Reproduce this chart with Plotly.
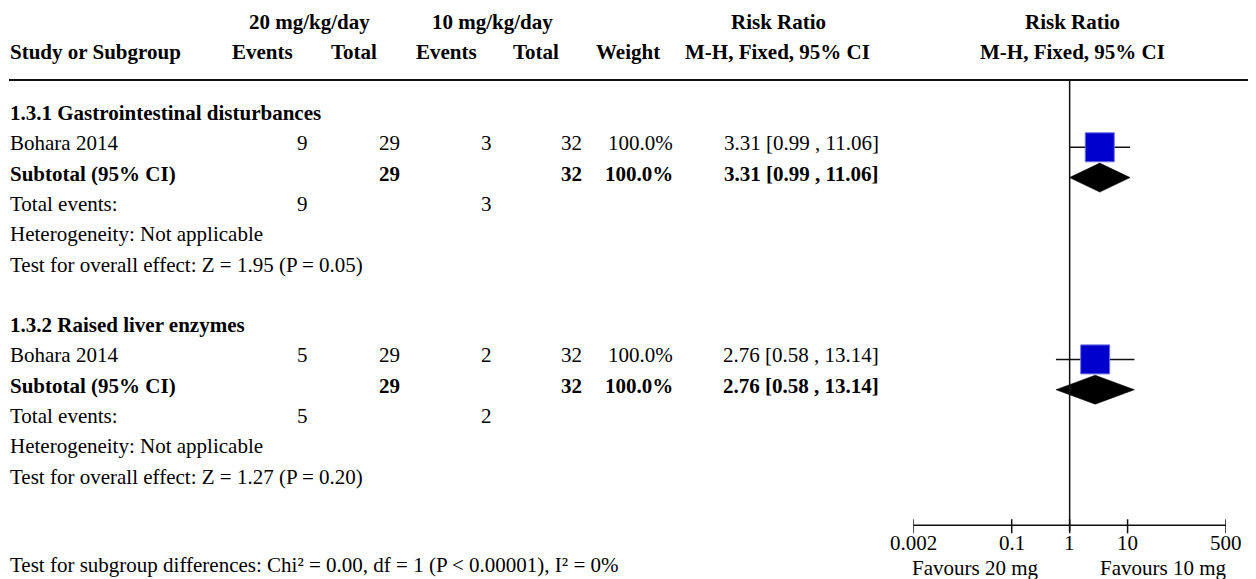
import numpy as np
import plotly.graph_objects as go

# ---------------- data ----------------
subgroup_titles = ["1.3.1 Gastrointestinal disturbances", "1.3.2 Raised liver enzymes"]
study_names = ["Bohara 2014", "Bohara 2014"]
events_20 = [9, 5]
total_20 = [29, 29]
events_10 = [3, 2]
total_10 = [32, 32]
weights = [100.0, 100.0]
risk_ratio = [3.31, 2.76]
ci_low = [0.99, 0.58]
ci_high = [11.06, 13.14]
z_values = [1.95, 1.27]
p_values = ["0.05", "0.20"]
subgroup_test = "Test for subgroup differences: Chi² = 0.00, df = 1 (P < 0.00001), I² = 0%"
axis_ticks = [0.002, 0.1, 1, 10, 500]
axis_ticktext = ["0.002", "0.1", "1", "10", "500"]
favours_labels = ["Favours 20 mg", "Favours 10 mg"]

# ---------------- layout constants ----------------
PAGE_W, PAGE_H = 1256, 579
OFF = 8  # default page margin around the plot div
W, H = PAGE_W - OFF, PAGE_H - OFF
FONT = "Liberation Serif"
FS = 21
ROW0, ROWH = 113, 30.3
MARK_DY = 4
SQ = 29
AXIS_Y = 525.3


def row_y(i):
    return ROW0 + ROWH * i


def px(x):
    return (x - OFF) / W


fig = go.Figure()
annotations = []


def txt(xpx, ypx, text, anchor="left", bold=False, size=FS):
    annotations.append(dict(
        x=px(xpx), y=ypx, xref="paper", yref="y", text=("<b>%s</b>" % text) if bold else text,
        showarrow=False, xanchor=anchor, yanchor="middle",
        font=dict(family=FONT, size=size, color="#000000"), borderpad=0,
    ))


# header
txt(309.5, 22, "20 mg/kg/day", "center", True)
txt(492, 22, "10 mg/kg/day", "center", True)
txt(778, 22, "Risk Ratio", "center", True)
txt(1072.5, 22, "Risk Ratio", "center", True)
txt(9, 52, "Study or Subgroup", "left", True)
txt(294, 52, "Events", "right", True)
txt(378, 52, "Total", "right", True)
txt(478, 52, "Events", "right", True)
txt(560, 52, "Total", "right", True)
txt(661, 52, "Weight", "right", True)
txt(777.5, 52, "M-H, Fixed, 95% CI", "center", True)
txt(1072.5, 52, "M-H, Fixed, 95% CI", "center", True)

COL_E20, COL_T20, COL_E10, COL_T10, COL_W, COL_RR = 309, 401, 493, 583, 674, 880

for k in range(len(subgroup_titles)):
    base = 7 * k
    txt(9, row_y(base), subgroup_titles[k], "left", True)
    # study row
    y1 = row_y(base + 1)
    txt(9, y1, study_names[k])
    txt(COL_E20, y1, str(events_20[k]), "right")
    txt(COL_T20, y1, str(total_20[k]), "right")
    txt(COL_E10, y1, str(events_10[k]), "right")
    txt(COL_T10, y1, str(total_10[k]), "right")
    txt(COL_W, y1, "%.1f%%" % weights[k], "right")
    rr_text = "%.2f [%.2f , %.2f]" % (risk_ratio[k], ci_low[k], ci_high[k])
    txt(COL_RR, y1, rr_text, "right")
    # subtotal row
    y2 = row_y(base + 2)
    txt(9, y2, "Subtotal (95% CI)", "left", True)
    txt(COL_T20, y2, str(total_20[k]), "right", True)
    txt(COL_T10, y2, str(total_10[k]), "right", True)
    txt(COL_W, y2, "%.1f%%" % weights[k], "right", True)
    txt(COL_RR, y2, rr_text, "right", True)
    # total events
    y3 = row_y(base + 3)
    txt(9, y3, "Total events:")
    txt(COL_E20, y3, str(events_20[k]), "right")
    txt(COL_E10, y3, str(events_10[k]), "right")
    txt(9, row_y(base + 4), "Heterogeneity: Not applicable")
    txt(9, row_y(base + 5), "Test for overall effect: Z = %.2f (P = %s)" % (z_values[k], p_values[k]))

    # forest marks
    ym = y1 + MARK_DY
    fig.add_trace(go.Scatter(x=[ci_low[k], ci_high[k]], y=[ym, ym], mode="lines",
                             line=dict(color="#111111", width=1.5), hoverinfo="skip", showlegend=False))
    fig.add_trace(go.Scatter(x=[risk_ratio[k]], y=[ym], mode="markers",
                             marker=dict(symbol="square", size=SQ, color="#0000CC",
                                         line=dict(color="#6f6fe6", width=1)),
                             hoverinfo="skip", showlegend=False))
    yd = y2 + MARK_DY
    fig.add_trace(go.Scatter(x=[ci_low[k], risk_ratio[k], ci_high[k], risk_ratio[k], ci_low[k]],
                             y=[yd, yd - SQ / 2, yd, yd + SQ / 2, yd], mode="lines", fill="toself",
                             fillcolor="#000000", line=dict(color="#000000", width=0.5),
                             hoverinfo="skip", showlegend=False))

txt(9, 565, subgroup_test)

# axis
fig.add_trace(go.Scatter(x=[axis_ticks[0], axis_ticks[-1]], y=[AXIS_Y, AXIS_Y], mode="lines",
                         line=dict(color="#111111", width=1.5), hoverinfo="skip", showlegend=False))
fig.add_trace(go.Scatter(x=axis_ticks, y=[AXIS_Y + 1] * len(axis_ticks), mode="markers",
                         marker=dict(symbol="line-ns", size=10, line=dict(color="#111111", width=1.5)),
                         hoverinfo="skip", showlegend=False))
fig.add_trace(go.Scatter(x=[1, 1], y=[80, AXIS_Y + 6], mode="lines",
                         line=dict(color="#111111", width=1.5), hoverinfo="skip", showlegend=False))

for t, lab in zip(axis_ticks, axis_ticktext):
    annotations.append(dict(x=np.log10(t), y=543, xref="x", yref="y", text=lab, showarrow=False,
                            xanchor="center", yanchor="middle",
                            font=dict(family=FONT, size=FS, color="#000000"), borderpad=0))
txt(975, 568, favours_labels[0], "center")
txt(1163.5, 568, favours_labels[1], "center")

fig.update_layout(
    width=W, height=H, margin=dict(l=0, r=0, t=0, b=0),
    paper_bgcolor="white", plot_bgcolor="white",
    xaxis=dict(type="log", range=[np.log10(0.002), np.log10(500)],
               domain=[px(913.3), px(1226)], visible=False),
    yaxis=dict(range=[PAGE_H, OFF], domain=[0, 1], visible=False),
    annotations=annotations,
    shapes=[dict(type="line", xref="paper", yref="y", x0=px(9), x1=1, y0=80, y1=80,
                 line=dict(color="#111111", width=2))],
    showlegend=False,
)

fig.write_html("out.html")
